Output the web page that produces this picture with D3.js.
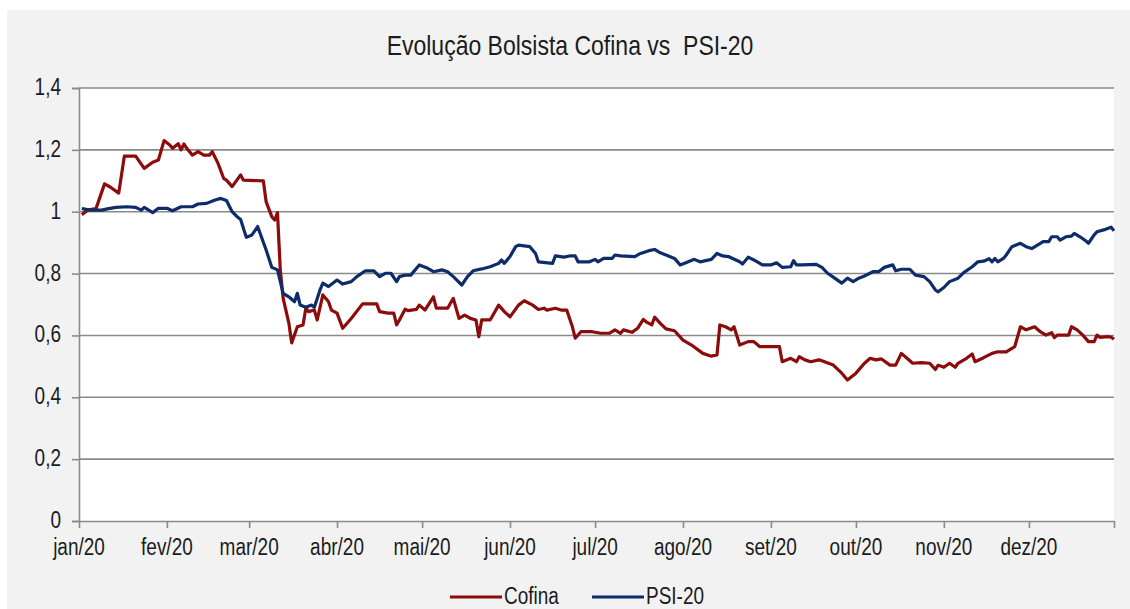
<!DOCTYPE html>
<html>
<head>
<meta charset="utf-8">
<script src="https://cdn.jsdelivr.net/npm/d3@7"></script>
<style>
  body { margin: 0; background: #fff; }
  svg { display: block; font-family: "Liberation Sans", Arial, sans-serif; }
  text { white-space: pre; }
</style>
</head>
<body>
<div id="chart"></div>
<script>
// data
var title = 'Evolução Bolsista Cofina vs  PSI-20';
var seriesNames = ['Cofina', 'PSI-20'];
var monthLabels = ['jan/20', 'fev/20', 'mar/20', 'abr/20', 'mai/20', 'jun/20',
                   'jul/20', 'ago/20', 'set/20', 'out/20', 'nov/20', 'dez/20'];
var yTicks = [0, 0.2, 0.4, 0.6, 0.8, 1, 1.2, 1.4];

var cofina = [
  ['2020-01-02', 0.99], ['2020-01-04', 1.005], ['2020-01-07', 1.01], ['2020-01-10', 1.09],
  ['2020-01-12', 1.08], ['2020-01-15', 1.06], ['2020-01-17', 1.18], ['2020-01-21', 1.18],
  ['2020-01-24', 1.14], ['2020-01-27', 1.16], ['2020-01-29', 1.167], ['2020-01-31', 1.23],
  ['2020-02-02', 1.216], ['2020-02-03', 1.205], ['2020-02-05', 1.22], ['2020-02-06', 1.2],
  ['2020-02-07', 1.219], ['2020-02-08', 1.205], ['2020-02-10', 1.183], ['2020-02-12', 1.194],
  ['2020-02-14', 1.183], ['2020-02-16', 1.183], ['2020-02-17', 1.194], ['2020-02-19', 1.157],
  ['2020-02-21', 1.108], ['2020-02-22', 1.102], ['2020-02-24', 1.081], ['2020-02-27', 1.119],
  ['2020-02-28', 1.102], ['2020-03-06', 1.1], ['2020-03-07', 1.032], ['2020-03-09', 0.984],
  ['2020-03-10', 0.973], ['2020-03-11', 0.997], ['2020-03-12', 0.81], ['2020-03-13', 0.72],
  ['2020-03-15', 0.64], ['2020-03-16', 0.576], ['2020-03-18', 0.628], ['2020-03-20', 0.634],
  ['2020-03-21', 0.688], ['2020-03-22', 0.677], ['2020-03-24', 0.682], ['2020-03-25', 0.65],
  ['2020-03-27', 0.731], ['2020-03-29', 0.709], ['2020-03-30', 0.682], ['2020-04-01', 0.672],
  ['2020-04-03', 0.623], ['2020-04-06', 0.655], ['2020-04-10', 0.702], ['2020-04-15', 0.702],
  ['2020-04-16', 0.677], ['2020-04-19', 0.672], ['2020-04-21', 0.672], ['2020-04-22', 0.634],
  ['2020-04-23', 0.65], ['2020-04-25', 0.685], ['2020-04-26', 0.68], ['2020-04-29', 0.684],
  ['2020-04-30', 0.698], ['2020-05-02', 0.682], ['2020-05-05', 0.725], ['2020-05-06', 0.688],
  ['2020-05-10', 0.688], ['2020-05-12', 0.72], ['2020-05-14', 0.655], ['2020-05-16', 0.666],
  ['2020-05-18', 0.655], ['2020-05-20', 0.65], ['2020-05-21', 0.596], ['2020-05-22', 0.65],
  ['2020-05-25', 0.65], ['2020-05-28', 0.698], ['2020-05-30', 0.677], ['2020-06-01', 0.66],
  ['2020-06-04', 0.698], ['2020-06-06', 0.712], ['2020-06-09', 0.698], ['2020-06-11', 0.684],
  ['2020-06-13', 0.688], ['2020-06-14', 0.682], ['2020-06-17', 0.688], ['2020-06-19', 0.682],
  ['2020-06-21', 0.682], ['2020-06-23', 0.628], ['2020-06-24', 0.591], ['2020-06-26', 0.612],
  ['2020-06-30', 0.612], ['2020-07-03', 0.607], ['2020-07-06', 0.607], ['2020-07-08', 0.618],
  ['2020-07-10', 0.607], ['2020-07-11', 0.618], ['2020-07-14', 0.61], ['2020-07-16', 0.623],
  ['2020-07-18', 0.652], ['2020-07-19', 0.644], ['2020-07-21', 0.634], ['2020-07-22', 0.659],
  ['2020-07-24', 0.639], ['2020-07-26', 0.621], ['2020-07-29', 0.615], ['2020-08-01', 0.585],
  ['2020-08-04', 0.569], ['2020-08-08', 0.542], ['2020-08-11', 0.533], ['2020-08-13', 0.537],
  ['2020-08-14', 0.634], ['2020-08-16', 0.628], ['2020-08-18', 0.618], ['2020-08-19', 0.628],
  ['2020-08-21', 0.569], ['2020-08-24', 0.58], ['2020-08-26', 0.58], ['2020-08-28', 0.564],
  ['2020-09-04', 0.564], ['2020-09-05', 0.515], ['2020-09-08', 0.526], ['2020-09-10', 0.515],
  ['2020-09-11', 0.531], ['2020-09-13', 0.521], ['2020-09-15', 0.515], ['2020-09-18', 0.521],
  ['2020-09-23', 0.504], ['2020-09-26', 0.478], ['2020-09-28', 0.456], ['2020-10-01', 0.478],
  ['2020-10-04', 0.51], ['2020-10-06', 0.526], ['2020-10-08', 0.521], ['2020-10-10', 0.524],
  ['2020-10-13', 0.504], ['2020-10-15', 0.504], ['2020-10-17', 0.542], ['2020-10-19', 0.526],
  ['2020-10-21', 0.51], ['2020-10-24', 0.512], ['2020-10-27', 0.51], ['2020-10-29', 0.49],
  ['2020-10-30', 0.504], ['2020-11-01', 0.497], ['2020-11-03', 0.51], ['2020-11-05', 0.497],
  ['2020-11-06', 0.51], ['2020-11-09', 0.526], ['2020-11-11', 0.54], ['2020-11-12', 0.515],
  ['2020-11-15', 0.528], ['2020-11-18', 0.542], ['2020-11-20', 0.547], ['2020-11-23', 0.547],
  ['2020-11-26', 0.564], ['2020-11-28', 0.628], ['2020-11-30', 0.618], ['2020-12-03', 0.628],
  ['2020-12-05', 0.612], ['2020-12-07', 0.601], ['2020-12-09', 0.609], ['2020-12-10', 0.593],
  ['2020-12-11', 0.601], ['2020-12-15', 0.601], ['2020-12-16', 0.628], ['2020-12-18', 0.618],
  ['2020-12-20', 0.601], ['2020-12-22', 0.58], ['2020-12-24', 0.58], ['2020-12-25', 0.601],
  ['2020-12-26', 0.594], ['2020-12-29', 0.596], ['2020-12-30', 0.594], ['2020-12-31', 0.588]
];

var psi20 = [
  ['2020-01-02', 1.01], ['2020-01-05', 1.005], ['2020-01-09', 1.005], ['2020-01-11', 1.009],
  ['2020-01-14', 1.014], ['2020-01-18', 1.016], ['2020-01-21', 1.014], ['2020-01-23', 1.005],
  ['2020-01-24', 1.014], ['2020-01-27', 0.997], ['2020-01-29', 1.011], ['2020-02-01', 1.011],
  ['2020-02-03', 1.003], ['2020-02-06', 1.016], ['2020-02-10', 1.016], ['2020-02-12', 1.025],
  ['2020-02-15', 1.027], ['2020-02-18', 1.038], ['2020-02-20', 1.043], ['2020-02-22', 1.036],
  ['2020-02-24', 1.0], ['2020-02-26', 0.982], ['2020-02-27', 0.975], ['2020-02-29', 0.917],
  ['2020-03-02', 0.925], ['2020-03-04', 0.952], ['2020-03-07', 0.876], ['2020-03-09', 0.82],
  ['2020-03-11', 0.812], ['2020-03-12', 0.774], ['2020-03-13', 0.736], ['2020-03-15', 0.725],
  ['2020-03-17', 0.709], ['2020-03-18', 0.736], ['2020-03-19', 0.698], ['2020-03-21', 0.691],
  ['2020-03-23', 0.698], ['2020-03-24', 0.691], ['2020-03-26', 0.747], ['2020-03-27', 0.769],
  ['2020-03-29', 0.758], ['2020-04-01', 0.779], ['2020-04-03', 0.766], ['2020-04-06', 0.774],
  ['2020-04-08', 0.79], ['2020-04-11', 0.809], ['2020-04-14', 0.809], ['2020-04-16', 0.79],
  ['2020-04-18', 0.801], ['2020-04-20', 0.801], ['2020-04-22', 0.774], ['2020-04-23', 0.79],
  ['2020-04-25', 0.795], ['2020-04-27', 0.795], ['2020-04-30', 0.828], ['2020-05-03', 0.817],
  ['2020-05-05', 0.806], ['2020-05-08', 0.812], ['2020-05-10', 0.806], ['2020-05-12', 0.79],
  ['2020-05-15', 0.763], ['2020-05-17', 0.79], ['2020-05-19', 0.809], ['2020-05-22', 0.815],
  ['2020-05-25', 0.822], ['2020-05-28', 0.833], ['2020-05-29', 0.844], ['2020-05-30', 0.833],
  ['2020-06-01', 0.855], ['2020-06-03', 0.887], ['2020-06-04', 0.892], ['2020-06-08', 0.887],
  ['2020-06-10', 0.865], ['2020-06-11', 0.838], ['2020-06-16', 0.833], ['2020-06-17', 0.857],
  ['2020-06-20', 0.853], ['2020-06-22', 0.857], ['2020-06-24', 0.857], ['2020-06-25', 0.838],
  ['2020-06-29', 0.838], ['2020-07-01', 0.846], ['2020-07-02', 0.838], ['2020-07-04', 0.849],
  ['2020-07-07', 0.849], ['2020-07-08', 0.86], ['2020-07-10', 0.857], ['2020-07-15', 0.855],
  ['2020-07-17', 0.865], ['2020-07-20', 0.874], ['2020-07-22', 0.878], ['2020-07-24', 0.867],
  ['2020-07-26', 0.86], ['2020-07-29', 0.849], ['2020-07-31', 0.828], ['2020-08-02', 0.835],
  ['2020-08-05', 0.846], ['2020-08-07', 0.838], ['2020-08-11', 0.846], ['2020-08-13', 0.865],
  ['2020-08-15', 0.857], ['2020-08-17', 0.855], ['2020-08-21', 0.838], ['2020-08-22', 0.831],
  ['2020-08-24', 0.853], ['2020-08-26', 0.844], ['2020-08-29', 0.828], ['2020-09-01', 0.828],
  ['2020-09-03', 0.835], ['2020-09-05', 0.82], ['2020-09-08', 0.822], ['2020-09-09', 0.842],
  ['2020-09-10', 0.828], ['2020-09-12', 0.828], ['2020-09-17', 0.83], ['2020-09-19', 0.82],
  ['2020-09-21', 0.801], ['2020-09-24', 0.782], ['2020-09-26', 0.769], ['2020-09-28', 0.785],
  ['2020-09-30', 0.774], ['2020-10-02', 0.785], ['2020-10-04', 0.792], ['2020-10-07', 0.806],
  ['2020-10-09', 0.806], ['2020-10-11', 0.82], ['2020-10-14', 0.828], ['2020-10-15', 0.809],
  ['2020-10-17', 0.814], ['2020-10-20', 0.814], ['2020-10-22', 0.795], ['2020-10-25', 0.79],
  ['2020-10-27', 0.774], ['2020-10-29', 0.747], ['2020-10-30', 0.741], ['2020-11-01', 0.755],
  ['2020-11-03', 0.774], ['2020-11-06', 0.785], ['2020-11-08', 0.803], ['2020-11-11', 0.822],
  ['2020-11-13', 0.838], ['2020-11-15', 0.84], ['2020-11-17', 0.848], ['2020-11-18', 0.838],
  ['2020-11-19', 0.849], ['2020-11-20', 0.838], ['2020-11-22', 0.849], ['2020-11-23', 0.86],
  ['2020-11-25', 0.887], ['2020-11-28', 0.898], ['2020-11-30', 0.887], ['2020-12-02', 0.881],
  ['2020-12-04', 0.892], ['2020-12-06', 0.903], ['2020-12-08', 0.903], ['2020-12-09', 0.919],
  ['2020-12-11', 0.919], ['2020-12-12', 0.908], ['2020-12-14', 0.919], ['2020-12-16', 0.921],
  ['2020-12-17', 0.93], ['2020-12-19', 0.919], ['2020-12-21', 0.906], ['2020-12-22', 0.898],
  ['2020-12-24', 0.925], ['2020-12-25', 0.935], ['2020-12-28', 0.943], ['2020-12-30', 0.95],
  ['2020-12-31', 0.938]
];
//end data

var W = 1130, H = 609;
var plot = {left: 79, right: 1114, top: 88, bottom: 521};
var colors = ['#8c0b0b', '#0d2c69'];
var gridColor = '#8a8a8a';
var textColor = '#1c1c1c';
var stretch = 1.23; // the picture's text is a bit taller than wide

var parseDate = d3.timeParse('%Y-%m-%d');
var series = [cofina, psi20].map(function(s){
    return s.map(function(d){ return {date: parseDate(d[0]), value: d[1]}; });
});

var comma = d3.formatLocale({decimal: ',', thousands: '.', grouping: [3], currency: ['', '€']}).format('~g');

var x = d3.scaleTime()
    .domain([new Date(2020, 0, 1), new Date(2020, 11, 31)])
    .range([plot.left, plot.right]);

var y = d3.scaleLinear()
    .domain([0, 1.4])
    .range([plot.bottom, plot.top]);

var monthStarts = d3.timeMonth.range(new Date(2020, 0, 1), new Date(2021, 0, 1));
var xTicks = monthStarts.concat([x.domain()[1]]);

var svg = d3.select('#chart').append('svg')
    .attr('width', W)
    .attr('height', H);

svg.append('rect').attr('width', W).attr('height', H).attr('fill', '#fff');
svg.append('rect')
    .attr('x', 7).attr('y', 10)
    .attr('width', W - 7).attr('height', H - 10)
    .attr('fill', '#f2f2f2');

svg.append('rect')
    .attr('x', plot.left).attr('y', plot.top)
    .attr('width', plot.right - plot.left)
    .attr('height', plot.bottom - plot.top)
    .attr('fill', '#fff');

// stretched text helper
function label(g, tx, ty, str, size, anchor){
    return g.append('text')
        .attr('transform', 'translate(' + tx + ',' + ty + ') scale(1,' + stretch + ')')
        .attr('text-anchor', anchor || 'middle')
        .attr('font-size', size)
        .attr('fill', textColor)
        .text(str);
}

// gridlines
svg.append('g').attr('class', 'grid')
    .selectAll('line')
    .data(yTicks.filter(function(d){ return d > 0; }))
    .enter().append('line')
    .attr('x1', plot.left).attr('x2', plot.right)
    .attr('y1', function(d){ return y(d); })
    .attr('y2', function(d){ return y(d); })
    .attr('stroke', gridColor)
    .attr('stroke-width', 1.6);

// y axis
var yAxis = svg.append('g')
    .attr('transform', 'translate(' + plot.left + ',0)')
    .call(d3.axisLeft(y).tickValues(yTicks).tickSize(7).tickFormat(''));
yAxis.selectAll('path, line').attr('stroke', gridColor).attr('stroke-width', 1.6);

var yLabels = svg.append('g');
yTicks.forEach(function(t){
    label(yLabels, 61, y(t) + 7, comma(t), 19, 'end');
});

// x axis
var xAxis = svg.append('g')
    .attr('transform', 'translate(0,' + plot.bottom + ')')
    .call(d3.axisBottom(x).tickValues(xTicks).tickSize(7).tickSizeOuter(0).tickFormat(''));
xAxis.selectAll('path, line').attr('stroke', gridColor).attr('stroke-width', 1.6);

var xLabels = svg.append('g');
monthStarts.forEach(function(m, i){
    label(xLabels, x(m), 555, monthLabels[i], 19, 'middle');
});

// lines
var lineFunc = d3.line()
    .x(function(d){ return x(d.date); })
    .y(function(d){ return y(d.value); });

svg.append('g').attr('class', 'lines')
    .selectAll('path')
    .data(series)
    .enter().append('path')
    .attr('d', lineFunc)
    .attr('fill', 'none')
    .attr('stroke', function(d, i){ return colors[i]; })
    .attr('stroke-width', 3.2)
    .attr('stroke-linejoin', 'round');

// title
label(svg, 570, 55, title, 23, 'middle');

// legend
var legend = svg.append('g').attr('class', 'legend');
var legendX = [450, 592];
seriesNames.forEach(function(name, i){
    legend.append('line')
        .attr('x1', legendX[i]).attr('x2', legendX[i] + 52)
        .attr('y1', 597).attr('y2', 597)
        .attr('stroke', colors[i])
        .attr('stroke-width', 3);
    label(legend, legendX[i] + 54, 604, name, 19, 'start');
});
</script>
</body>
</html>
